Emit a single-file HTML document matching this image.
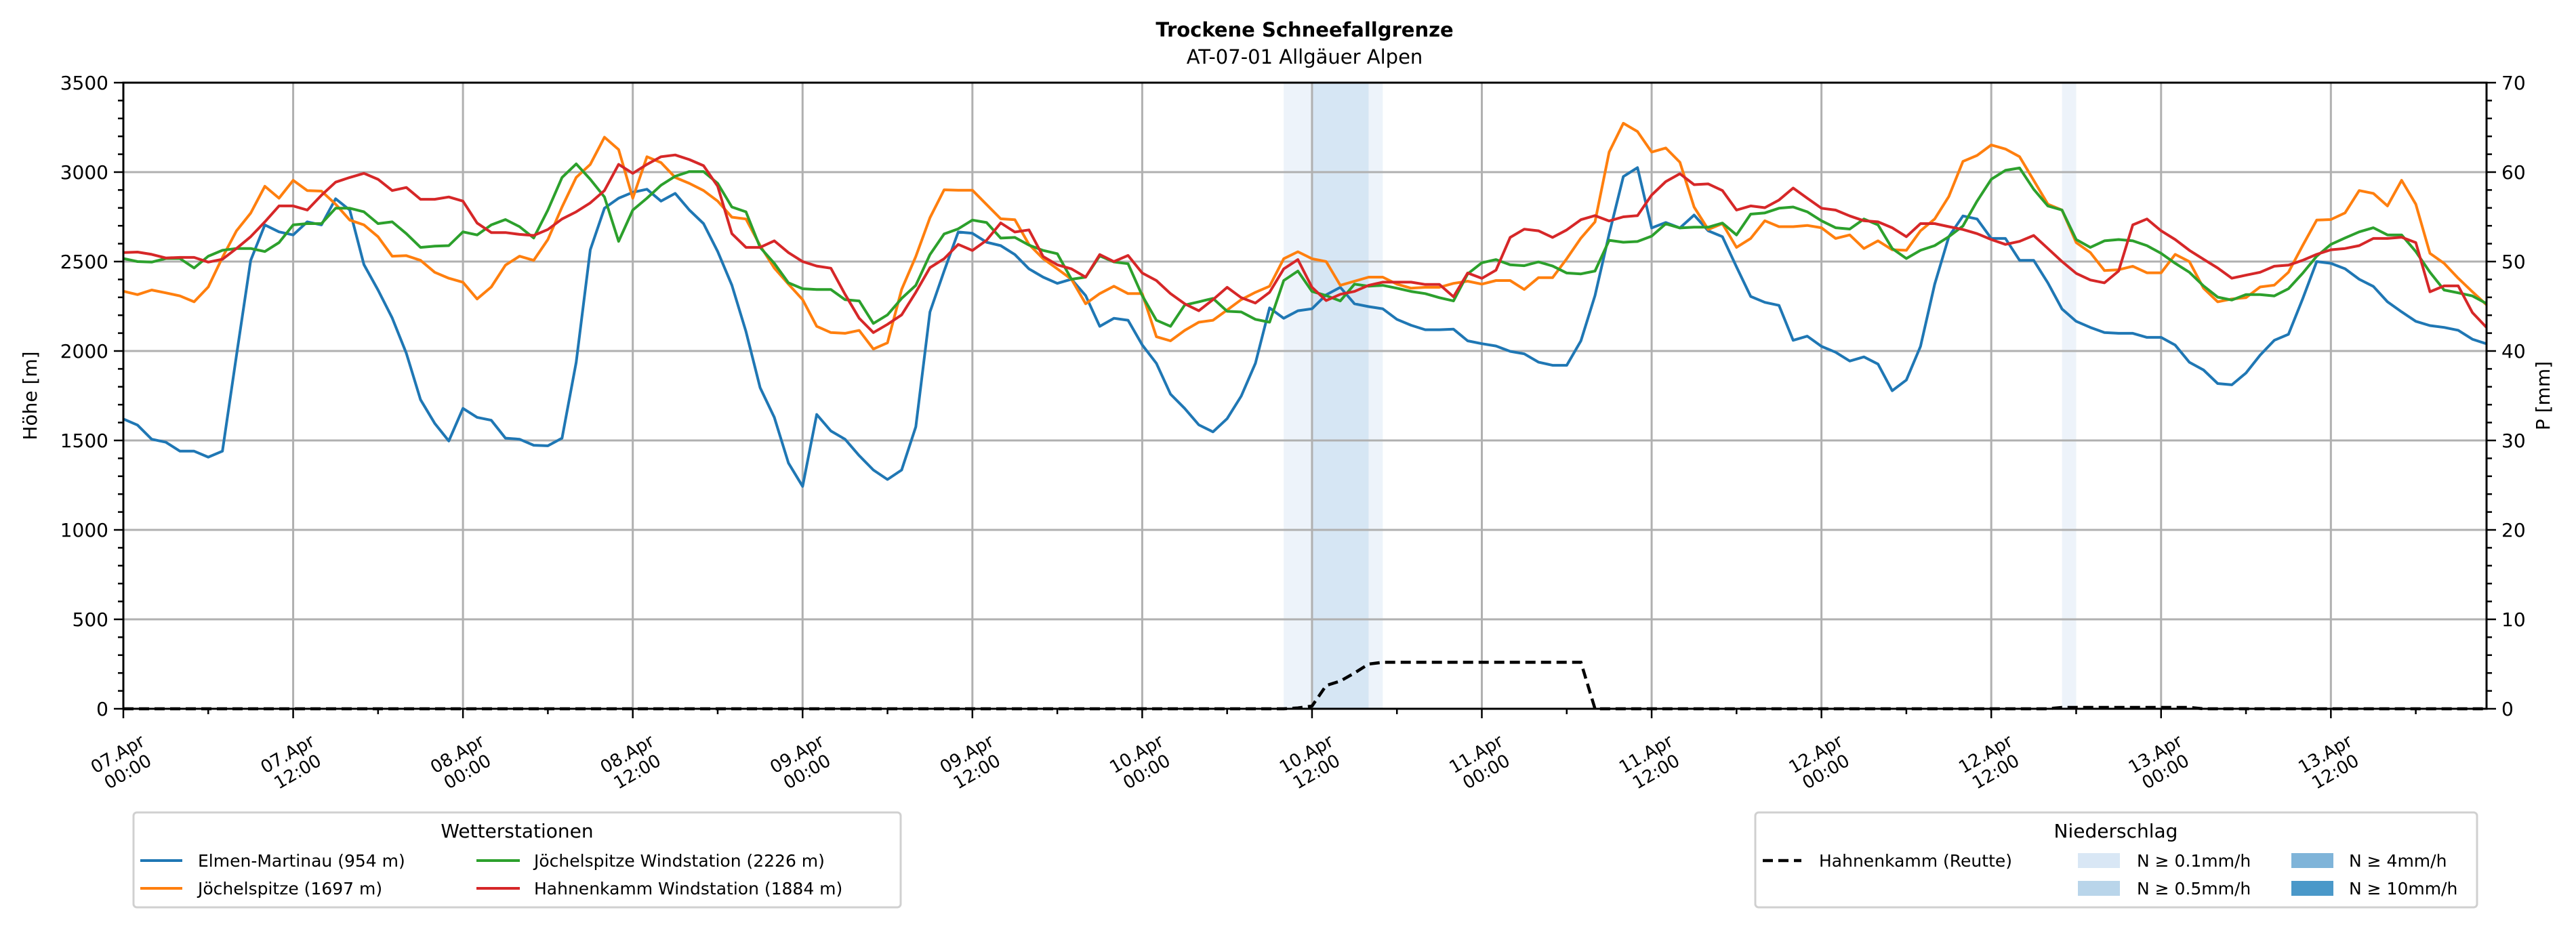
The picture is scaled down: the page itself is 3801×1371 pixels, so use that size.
<!DOCTYPE html>
<html><head><meta charset="utf-8">
<style>
html,body{margin:0;padding:0;background:#fff;}
svg{display:block;font-family:"DejaVu Sans","Liberation Sans",sans-serif;}
</style></head>
<body>
<svg id="chart" width="3801" height="1371" viewBox="0 0 3801 1371" xmlns="http://www.w3.org/2000/svg">
  <rect x="0" y="0" width="3801" height="1371" fill="#fff"/>
  <text x="1925" y="54" font-size="29" font-weight="bold" text-anchor="middle">Trockene Schneefallgrenze</text>
  <text x="1925" y="94" font-size="29" text-anchor="middle">AT-07-01 Allgäuer Alpen</text>
  <g id="bands"></g>
  <g id="grid"></g>
  <g id="series"></g>
  <g id="axes"></g>
  <text transform="translate(54,584) rotate(-90)" font-size="28" text-anchor="middle">Höhe [m]</text>
  <text transform="translate(3762,584) rotate(-90)" font-size="28" text-anchor="middle">P [mm]</text>

  <g>
    <rect x="197" y="1199" width="1132" height="140" rx="5" fill="#fff" stroke="#d0d0d0" stroke-width="3"/>
    <text x="763" y="1236" font-size="28" text-anchor="middle">Wetterstationen</text>
    <g><line x1="207" y1="1270" x2="269" y2="1270" stroke="#1f77b4" stroke-width="4"/><text x="292" y="1279" font-size="25">Elmen-Martinau (954 m)</text></g>
    <g><line x1="207" y1="1311" x2="269" y2="1311" stroke="#ff7f0e" stroke-width="4"/><text x="292" y="1320" font-size="25">Jöchelspitze (1697 m)</text></g>
    <g><line x1="703" y1="1270" x2="767" y2="1270" stroke="#2ca02c" stroke-width="4"/><text x="788" y="1279" font-size="25">Jöchelspitze Windstation (2226 m)</text></g>
    <g><line x1="703" y1="1311" x2="767" y2="1311" stroke="#d62728" stroke-width="4"/><text x="788" y="1320" font-size="25">Hahnenkamm Windstation (1884 m)</text></g>
  </g>
  <g>
    <rect x="2590" y="1199" width="1065" height="140" rx="5" fill="#fff" stroke="#d0d0d0" stroke-width="3"/>
    <text x="3122" y="1236" font-size="28" text-anchor="middle">Niederschlag</text>
    <g><line x1="2601" y1="1270" x2="2658" y2="1270" stroke="#000" stroke-width="4.5" stroke-dasharray="15,8"/><text x="2684" y="1279" font-size="25">Hahnenkamm (Reutte)</text></g>
    <g><rect x="3066" y="1259" width="62" height="22" fill="#d9e7f5"/><text x="3153" y="1279" font-size="25">N ≥ 0.1mm/h</text></g>
    <g><rect x="3066" y="1300" width="62" height="22" fill="#b9d5ea"/><text x="3153" y="1320" font-size="25">N ≥ 0.5mm/h</text></g>
    <g><rect x="3381" y="1259" width="62" height="22" fill="#7fb4d9"/><text x="3466" y="1279" font-size="25">N ≥ 4mm/h</text></g>
    <g><rect x="3381" y="1300" width="62" height="22" fill="#4a98c9"/><text x="3466" y="1320" font-size="25">N ≥ 10mm/h</text></g>
  </g>
</svg>
<script>
const elmen = [1620,1586,1507,1490,1440,1440,1407,1440,1977,2507,2705,2666,2649,2722,2705,2851,2788,2483,2341,2185,1987,1728,1596,1497,1679,1629,1613,1513,1507,1473,1470,1513,1937,2566,2798,2854,2887,2904,2838,2881,2788,2712,2556,2368,2109,1795,1629,1374,
1243,1645,1553,1507,1415,1335,1282,1335,1576,2218,2447,2665,2658,2608,2589,2539,2459,2413,2378,2401,2310,2138,2183,2172,2034,1931,1759,1679,1587,1548,1622,1748,1931,2241,2183,2225,2236,2314,2356,2264,2248,2236,2177,2144,2119,2119,2122,2057,2041,2028,1998,1984,1938,1920,1920,2057,2310,2654,2975,3025,2688,2718,2688,
2760,2672,2639,2470,2305,2272,2255,2060,2083,2026,1993,1944,1967,1927,1778,1838,2026,2373,2639,2755,2738,2629,2629,2507,2507,2381,2235,2166,2132,2103,2099,2099,2076,2076,2033,1937,1894,1818,1811,1877,1977,2060,2093,2291,2500,2490,2460,2401,2361,2275,2219,2166,2142,2132,2116,2066,2040];
const joechel = [2334,2315,2341,2325,2308,2275,2358,2523,2672,2771,2921,2854,2954,2897,2894,2821,2732,2705,2639,2530,2533,2507,2440,2407,2384,2291,2358,2480,2530,2507,2623,2805,2970,3043,3195,3126,2854,3086,3053,2970,2937,2897,2838,2748,2738,2589,2464,2374,
2287,2138,2103,2099,2115,2011,2046,2344,2528,2745,2901,2899,2899,2819,2739,2734,2596,2516,2459,2401,2264,2321,2362,2321,2321,2080,2057,2115,2161,2172,2229,2287,2328,2362,2516,2555,2516,2500,2367,2390,2413,2413,2374,2351,2356,2356,2378,2390,2374,2394,2394,2344,2410,2410,2516,2631,2722,3112,3273,3227,3112,3135,3055,
2805,2679,2712,2579,2629,2728,2695,2695,2702,2689,2629,2649,2573,2616,2566,2563,2672,2738,2864,3060,3093,3152,3129,3086,2954,2821,2788,2606,2550,2450,2454,2474,2437,2437,2540,2500,2351,2275,2291,2298,2358,2368,2440,2589,2732,2735,2772,2897,2881,2811,2954,2821,2546,2490,2407,2331,2258];
const joechelWind = [2517,2500,2497,2517,2517,2464,2530,2563,2573,2573,2556,2606,2705,2712,2712,2798,2798,2778,2712,2722,2656,2579,2586,2589,2666,2649,2705,2735,2695,2632,2788,2970,3046,2960,2861,2613,2788,2854,2927,2977,3003,3003,2937,2805,2778,2579,2490,2381,
2348,2344,2344,2287,2280,2154,2202,2294,2367,2539,2654,2683,2732,2718,2631,2635,2592,2562,2544,2401,2413,2532,2498,2488,2310,2172,2138,2257,2275,2294,2222,2218,2177,2161,2394,2447,2333,2310,2280,2374,2362,2367,2351,2333,2321,2298,2280,2431,2493,2511,2482,2477,2498,2475,2436,2431,2447,2619,2608,2612,2642,2711,2688,
2692,2692,2715,2649,2765,2772,2798,2805,2778,2728,2689,2682,2738,2705,2573,2517,2563,2589,2639,2699,2838,2960,3010,3023,2904,2811,2788,2623,2579,2616,2623,2616,2589,2546,2490,2440,2364,2301,2285,2315,2315,2308,2348,2434,2530,2596,2632,2666,2689,2649,2649,2556,2440,2341,2325,2308,2265];
const hahnenWind = [2550,2553,2540,2520,2523,2523,2497,2513,2573,2639,2722,2811,2811,2788,2871,2944,2970,2993,2960,2897,2914,2848,2848,2861,2838,2715,2662,2662,2652,2646,2679,2738,2778,2828,2897,3043,2993,3043,3086,3096,3070,3036,2921,2656,2579,2579,2616,2550,
2500,2475,2463,2317,2183,2103,2149,2202,2328,2466,2516,2596,2562,2619,2716,2665,2677,2528,2482,2459,2413,2539,2500,2534,2436,2394,2321,2264,2225,2287,2356,2298,2268,2328,2459,2511,2356,2282,2317,2333,2367,2385,2385,2385,2372,2372,2303,2436,2406,2452,2635,2681,2672,2635,2677,2734,2757,2727,2750,2757,2872,2947,2991,
2930,2934,2897,2788,2811,2801,2844,2911,2854,2798,2788,2755,2728,2722,2689,2639,2712,2712,2695,2679,2656,2623,2596,2613,2646,2573,2500,2434,2397,2381,2447,2705,2738,2672,2623,2563,2513,2464,2407,2424,2440,2474,2480,2507,2540,2566,2573,2589,2629,2629,2636,2606,2331,2364,2364,2215,2132];
const precipMm = [
0,0,0,0,0,0,0,0,0,0,0,0,
0,0,0,0,0,0,0,0,0,0,0,0,
0,0,0,0,0,0,0,0,0,0,0,0,
0,0,0,0,0,0,0,0,0,0,0,0,
0,0,0,0,0,0,0,0,0,0,0,0,
0,0,0,0,0,0,0,0,0,0,0,0,
0,0,0,0,0,0,0,0,0,0,0,0.1,
0.3,2.6,3.1,4.0,5.0,5.2,5.2,5.2,5.2,5.2,5.2,5.2,
5.2,5.2,5.2,5.2,5.2,5.2,5.2,5.2,0,0,0,0,
0,0,0,0,0,0,0,0,0,0,0,0,
0,0,0,0,0,0,0,0,0,0,0,0,
0,0,0,0,0,0.15,0.15,0.15,0.15,0.15,0.15,0.15,
0.15,0.15,0.15,0,0,0,0,0,0,0,0,0,
0,0,0,0,0,0,0,0,0,0,0,0];
const bandStart = [82,84,88,137];
const bandEnd = [84,88,89,138];
const bandClass = ["0.1","0.5","0.1","0.1"];
const yTicks = [0,500,1000,1500,2000,2500,3000,3500];
const y2Ticks = [0,10,20,30,40,50,60,70];
const xTickDays = ["07.Apr","07.Apr","08.Apr","08.Apr","09.Apr","09.Apr","10.Apr","10.Apr","11.Apr","11.Apr","12.Apr","12.Apr","13.Apr","13.Apr"];
const xTickTimes = ["00:00","12:00","00:00","12:00","00:00","12:00","00:00","12:00","00:00","12:00","00:00","12:00","00:00","12:00"];

const NS="http://www.w3.org/2000/svg";
const L=182,R=3669,T=122,B=1046, HMAX=167, YMAX=3500, PMAX=70;
const xs=h=>L+h*(R-L)/HMAX;
const ys=v=>B-v*(B-T)/YMAX;
const yp=v=>B-v*(B-T)/PMAX;
function mk(tag,attrs,parent){const e=document.createElementNS(NS,tag);for(const k in attrs)e.setAttribute(k,attrs[k]);parent.appendChild(e);return e;}
const bands=document.getElementById('bands'),grid=document.getElementById('grid'),series=document.getElementById('series'),axes=document.getElementById('axes');
const bandColor={"0.1":"#edf3fa","0.5":"#d6e6f4","4":"#7fb4d9","10":"#4a98c9"};
for(let i=0;i<bandStart.length;i++){
  const r=mk('rect',{x:xs(bandStart[i]),y:T,width:xs(bandEnd[i])-xs(bandStart[i]),height:B-T,fill:bandColor[bandClass[i]]},bands);
  
  
}
yTicks.forEach(v=>{
  const g=mk('line',{x1:L,x2:R,y1:ys(v),y2:ys(v),stroke:'#b0b0b0','stroke-width':3},grid);
  
  
});
xTickDays.forEach((d,i)=>{
  const x=xs(i*12);
  const g=mk('line',{x1:x,x2:x,y1:T,y2:B,stroke:'#b0b0b0','stroke-width':3},grid);
  
  
});
function line(arr,color,name){
  const p=arr.map((v,i)=>(i?'L':'M')+xs(i).toFixed(1)+','+ys(v).toFixed(1)).join('');
  const e=mk('path',{d:p,fill:'none',stroke:color,'stroke-width':4,'stroke-linejoin':'round'},series);
  
  
}
line(elmen,'#1f77b4','series-elmen-martinau');
line(joechel,'#ff7f0e','series-joechelspitze');
line(joechelWind,'#2ca02c','series-joechelspitze-windstation');
line(hahnenWind,'#d62728','series-hahnenkamm-windstation');
{
  const p=precipMm.map((v,i)=>(i?'L':'M')+xs(i).toFixed(1)+','+yp(v).toFixed(1)).join('');
  const e=mk('path',{d:p,fill:'none',stroke:'#000','stroke-width':4.5,'stroke-dasharray':'15,8'},series);
  
  
}
const fr=mk('rect',{x:L,y:T,width:R-L,height:B-T,fill:'none',stroke:'#000','stroke-width':3},axes);


for(let v=0;v<=YMAX;v+=100){
  const major=v%500===0, len=major?14:8;
  mk('line',{x1:L-len,x2:L,y1:ys(v),y2:ys(v),stroke:'#000','stroke-width':2.5},axes);
  mk('line',{x1:R,x2:R+len,y1:ys(v),y2:ys(v),stroke:'#000','stroke-width':2.5},axes);
}
yTicks.forEach(v=>{
  const t=mk('text',{x:L-22,y:ys(v)+10,'font-size':28,'text-anchor':'end'},axes);t.textContent=v;
  
  
});
y2Ticks.forEach(v=>{
  const t=mk('text',{x:R+22,y:yp(v)+10,'font-size':28,'text-anchor':'start'},axes);t.textContent=v;
  
  
});
for(let h=0;h<=HMAX;h+=6){
  const major=h%12===0;
  mk('line',{x1:xs(h),x2:xs(h),y1:B,y2:B+(major?14:8),stroke:'#000','stroke-width':2.5},axes);
}
xTickDays.forEach((d,i)=>{
  const x=xs(i*12);
  const g=mk('g',{transform:`translate(${x-2},${1124}) rotate(-30)`},axes);
  
  
  const t1=mk('text',{x:0,y:-4,'font-size':26,'text-anchor':'middle'},g);t1.textContent=d;
  const t2=mk('text',{x:0,y:26,'font-size':26,'text-anchor':'middle'},g);t2.textContent=xTickTimes[i];
});
</script>
</body></html>
